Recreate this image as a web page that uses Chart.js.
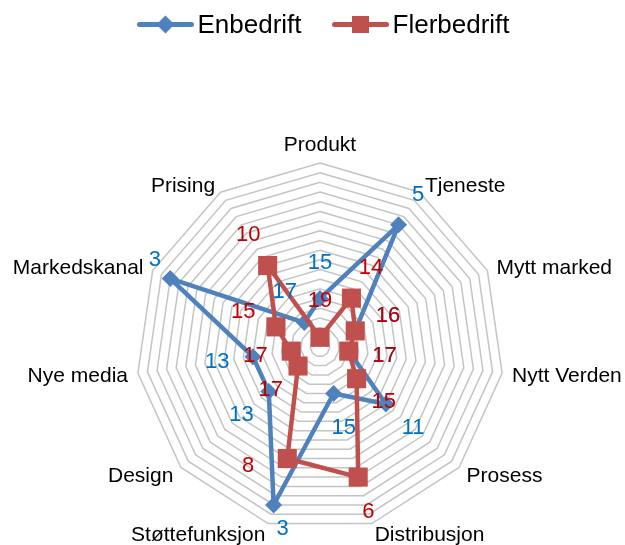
<!DOCTYPE html>
<html>
<head>
<meta charset="utf-8">
<script src="https://cdn.jsdelivr.net/npm/chart.js@4.4.1/dist/chart.umd.min.js"></script>
<style>
  html, body { margin: 0; padding: 0; background: #ffffff; }
</style>
</head>
<body>
<canvas id="radarChart" width="625" height="545"></canvas>
<script>
// akser og verdier (rangering, 1 = ytterst)
const categories = ['Produkt', 'Tjeneste', 'Mytt marked', 'Nytt Verden', 'Prosess', 'Distribusjon',
                    'Støttefunksjon', 'Design', 'Nye media', 'Markedskanal', 'Prising'];
const enbedrift = [15, 5, 16, 17, 11, 15, 3, 13, 13, 3, 17];
const flerbedrift = [19, 14, 16, 17, 15, 6, 8, 17, 17, 15, 10];
const rankMin = 1;
const rankMax = 20;

const FONT = '"Liberation Sans", Arial, sans-serif';

// noen tall er flyttet litt for hånd i originalen
const labelNudge = { '0:6': [15, 3], '0:9': [4, -10], '1:6': [-29, -27] };

// legend tegnet selv: linje med markør + tekst
const lineLegend = {
    id: 'lineLegend',
    afterDraw(chart) {
        const ctx = chart.ctx;
        ctx.save();
        ctx.font = '26px ' + FONT;
        const items = chart.data.datasets.map((ds) => ({ ds, w: 60 + ctx.measureText(ds.label).width }));
        const gap = 31;
        const total = items.reduce((s, it) => s + it.w, 0) + gap * (items.length - 1);
        let x = chart.width / 2 + 11 - total / 2;
        const y = 24.5;
        items.forEach(({ ds, w }) => {
            ctx.strokeStyle = ds.borderColor;
            ctx.fillStyle = ds.borderColor;
            ctx.lineWidth = 5;
            ctx.lineCap = 'round';
            ctx.beginPath();
            ctx.moveTo(x + 2, y);
            ctx.lineTo(x + 54, y);
            ctx.stroke();
            const cx = x + 28;
            if (ds.pointStyle === 'rectRot') {
                ctx.beginPath();
                ctx.moveTo(cx - 9, y);
                ctx.lineTo(cx, y - 9);
                ctx.lineTo(cx + 9, y);
                ctx.lineTo(cx, y + 9);
                ctx.closePath();
                ctx.fill();
            } else {
                ctx.fillRect(cx - 8.5, y - 8.5, 17, 17);
            }
            ctx.fillStyle = '#000000';
            ctx.textAlign = 'left';
            ctx.textBaseline = 'alphabetic';
            ctx.fillText(ds.label, x + 60, 33);
            x += w + gap;
        });
        ctx.restore();
    }
};

// aksenavn utenfor ytterste ring
const axisNames = {
    id: 'axisNames',
    afterDraw(chart) {
        const scale = chart.scales.r;
        const ctx = chart.ctx;
        ctx.save();
        ctx.font = '21px ' + FONT;
        ctx.fillStyle = '#000000';
        ctx.textBaseline = 'middle';
        categories.forEach((name, i) => {
            const a = scale.getIndexAngle(i);
            const s = Math.sin(a);
            const p = scale.getPointPosition(i, scale.drawingArea + 10);
            ctx.textAlign = s > 0.1 ? 'left' : (s < -0.1 ? 'right' : 'center');
            const dy = Math.cos(a) > 0.9 ? -8 : 2;
            ctx.fillText(name, p.x, p.y + dy);
        });
        ctx.restore();
    }
};

// tall ved hvert punkt, litt utenfor punktet langs aksen
const valueLabels = {
    id: 'valueLabels',
    afterDatasetsDraw(chart) {
        const scale = chart.scales.r;
        const ctx = chart.ctx;
        ctx.save();
        ctx.font = '22px ' + FONT;
        ctx.textAlign = 'center';
        ctx.textBaseline = 'middle';
        chart.data.datasets.forEach((ds, di) => {
            ctx.fillStyle = ds.labelColor;
            ds.data.forEach((v, i) => {
                const d = Math.min(scale.getDistanceFromCenterForValue(v) + 36, scale.drawingArea + 2);
                const p = scale.getPointPosition(i, d);
                const n = labelNudge[di + ':' + i] || [0, 0];
                ctx.fillText(String(v), p.x + n[0], p.y + n[1]);
            });
        });
        ctx.restore();
    }
};

const ctx = document.getElementById('radarChart').getContext('2d');
const chart = new Chart(ctx, {
    type: 'radar',
    data: {
        labels: categories,
        datasets: [{
            label: 'Enbedrift',
            data: enbedrift,
            borderColor: '#4F81BD',
            backgroundColor: '#4F81BD',
            borderWidth: 4.5,
            borderJoinStyle: 'round',
            fill: false,
            pointStyle: 'rectRot',
            pointRadius: 8.5,
            pointHoverRadius: 8.5,
            pointBorderWidth: 0,
            labelColor: '#0070C0',
            order: 1
        }, {
            label: 'Flerbedrift',
            data: flerbedrift,
            borderColor: '#C0504D',
            backgroundColor: '#C0504D',
            borderWidth: 4.5,
            borderJoinStyle: 'round',
            fill: false,
            pointStyle: 'rect',
            pointRadius: 13.5,
            pointHoverRadius: 13.5,
            pointBorderWidth: 0,
            labelColor: '#C00000',
            order: 0
        }]
    },
    options: {
        responsive: false,
        animation: false,
        layout: { padding: { left: 15, right: 0, top: 163, bottom: 14 } },
        elements: { line: { tension: 0 } },
        scales: {
            r: {
                min: rankMin,
                max: rankMax,
                reverse: true,
                ticks: { display: false, stepSize: 1 },
                grid: { color: '#C4C4C4', lineWidth: 1.5, circular: false },
                angleLines: { display: false },
                pointLabels: { display: false }
            }
        },
        plugins: {
            tooltip: { enabled: false },
            legend: { display: false }
        }
    },
    plugins: [valueLabels, axisNames, lineLegend]
});
</script>
</body>
</html>
